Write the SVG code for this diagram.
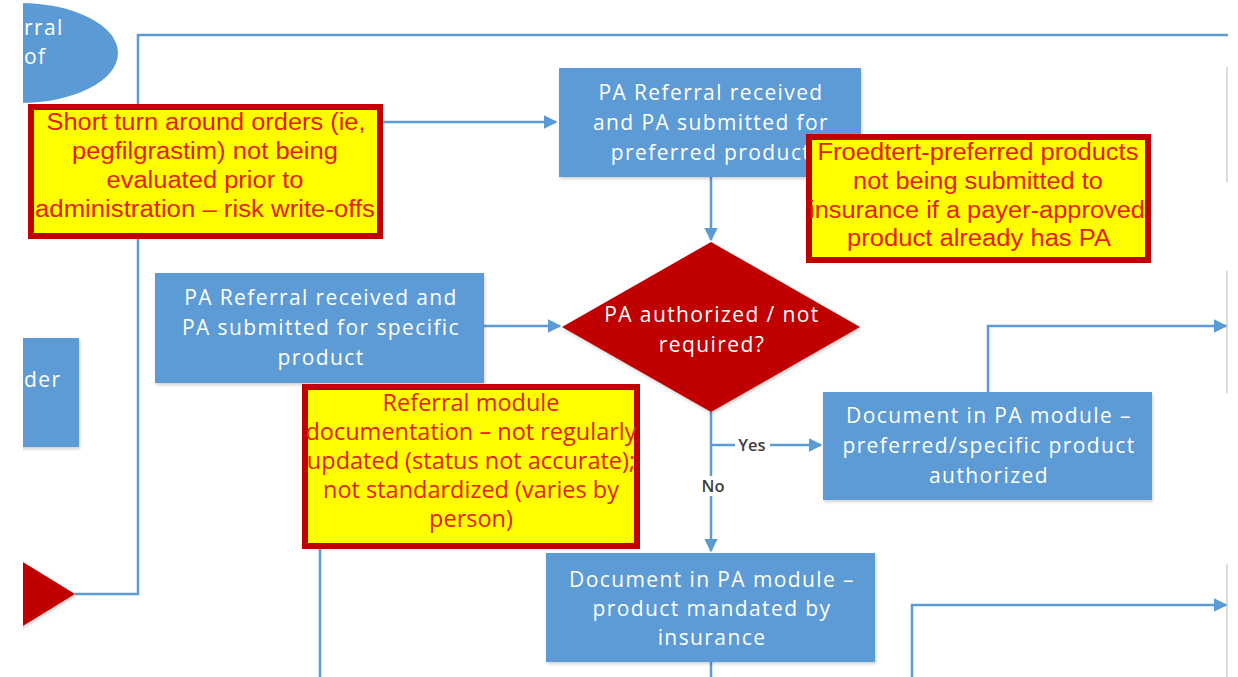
<svg xmlns="http://www.w3.org/2000/svg" width="1238" height="677" viewBox="0 0 1238 677">
<defs>
<marker id="arr" viewBox="0 0 10 10" refX="9" refY="5" markerWidth="5.5" markerHeight="5.5" orient="auto" markerUnits="strokeWidth">
<path d="M0,0 L10,5 L0,10 z" fill="#5B9BD5"/>
</marker>
<filter id="sh" x="-10%" y="-10%" width="120%" height="125%">
<feDropShadow dx="1" dy="2" stdDeviation="1.5" flood-color="#000" flood-opacity="0.18"/>
</filter>
</defs>
<style>
.box{fill:#5B9BD5;filter:url(#sh);}
.dia{fill:#C00000;filter:url(#sh);}
.bt{font-family:"Open Sans","Liberation Sans",sans-serif;font-size:21px;letter-spacing:1.4px;fill:#fff;text-anchor:middle;}
.bl{font-family:"Open Sans","Liberation Sans",sans-serif;font-size:21px;letter-spacing:1.4px;fill:#fff;text-anchor:start;}
.note{fill:#FFFF00;stroke:#C00000;stroke-width:6;}
.nt{font-family:"Liberation Sans",Arial,sans-serif;font-size:23px;fill:#E3200C;text-anchor:middle;}
.nt2{font-family:"Liberation Sans Narrow","Open Sans",sans-serif;font-size:23.5px;fill:#E3200C;text-anchor:middle;}
.c{fill:none;stroke:#5B9BD5;stroke-width:2.5;}
.lbl{font-family:"Open Sans","Liberation Sans",sans-serif;font-size:16.5px;font-weight:600;fill:#404040;text-anchor:middle;}
.edge{stroke:#D0D0D0;stroke-width:1.5;}
</style>
<rect width="1238" height="677" fill="#fff"/>

<g id="right-edge">
<line class="edge" x1="1227" y1="67" x2="1227" y2="182"/>
<line class="edge" x1="1227" y1="271" x2="1227" y2="393"/>
<line class="edge" x1="1227" y1="564" x2="1227" y2="677"/>
</g>

<g id="connectors">
<path class="c" d="M75,594 H138 V35 H1228"/>
<path class="c" d="M138,122 H556" marker-end="url(#arr)"/>
<path class="c" d="M711,177 V240" marker-end="url(#arr)"/>
<path class="c" d="M484,326 H560" marker-end="url(#arr)"/>
<path class="c" d="M711,412 V551" marker-end="url(#arr)"/>
<path class="c" d="M711,445 H821" marker-end="url(#arr)"/>
<path class="c" d="M988,392 V326 H1226" marker-end="url(#arr)"/>
<path class="c" d="M320,540 V677"/>
<path class="c" d="M711,662 V677"/>
<path class="c" d="M912,677 V605 H1226" marker-end="url(#arr)"/>
<rect x="735" y="435" width="35" height="20" fill="#fff"/>
<text class="lbl" x="752" y="451">Yes</text>
<rect x="699" y="476" width="27" height="20" fill="#fff"/>
<text class="lbl" x="713" y="492">No</text>
</g>

<g id="n-ellipse">
<ellipse cx="20" cy="53" rx="98" ry="50" fill="#5B9BD5"/>
<text class="bl" x="24" y="35">rral</text>
<text class="bl" x="24" y="64">of</text>
</g>

<g id="n-left-box">
<rect class="box" x="10" y="338" width="69" height="109"/>
<text class="bl" x="24" y="387">der</text>
</g>

<g id="n-left-diamond">
<polygon class="dia" points="0,548 75,594 0,640"/>
</g>

<g id="n-preferred">
<rect class="box" x="559" y="68" width="302" height="109"/>
<text class="bt" x="711" y="100">PA Referral received</text>
<text class="bt" x="711" y="130">and PA submitted for</text>
<text class="bt" x="711" y="160">preferred product</text>
</g>

<g id="n-specific">
<rect class="box" x="155" y="273" width="329" height="110"/>
<text class="bt" x="321" y="305">PA Referral received and</text>
<text class="bt" x="321" y="335">PA submitted for specific</text>
<text class="bt" x="321" y="365">product</text>
</g>

<g id="n-decision">
<polygon class="dia" points="711,242 860,327 711,412 562,327"/>
<text class="bt" x="712" y="322">PA authorized / not</text>
<text class="bt" x="712" y="352">required?</text>
</g>

<g id="n-authorized">
<rect class="box" x="823" y="392" width="329" height="108"/>
<text class="bt" x="989" y="423">Document in PA module –</text>
<text class="bt" x="989" y="453">preferred/specific product</text>
<text class="bt" x="989" y="483">authorized</text>
</g>

<g id="n-mandated">
<rect class="box" x="546" y="553" width="329" height="109"/>
<text class="bt" x="712" y="587">Document in PA module –</text>
<text class="bt" x="712" y="616">product mandated by</text>
<text class="bt" x="712" y="645">insurance</text>
</g>

<g id="note-short-turn">
<rect class="note" x="31" y="107" width="349" height="129"/>
<text class="nt" x="206" y="130" textLength="319" lengthAdjust="spacingAndGlyphs">Short turn around orders (ie,</text>
<text class="nt" x="205" y="159" textLength="266" lengthAdjust="spacingAndGlyphs">pegfilgrastim) not being</text>
<text class="nt" x="205" y="188" textLength="197" lengthAdjust="spacingAndGlyphs">evaluated prior to</text>
<text class="nt" x="205" y="217" textLength="340" lengthAdjust="spacingAndGlyphs">administration – risk write-offs</text>
</g>

<g id="note-froedtert">
<rect class="note" x="809" y="137" width="339" height="123"/>
<text class="nt" x="978" y="160" textLength="321" lengthAdjust="spacingAndGlyphs">Froedtert-preferred products</text>
<text class="nt" x="978" y="189" textLength="250" lengthAdjust="spacingAndGlyphs">not being submitted to</text>
<text class="nt" x="977" y="218" textLength="336" lengthAdjust="spacingAndGlyphs">insurance if a payer-approved</text>
<text class="nt" x="979" y="246" textLength="264" lengthAdjust="spacingAndGlyphs">product already has PA</text>
</g>

<g id="note-referral-module">
<rect class="note" x="305" y="387" width="332" height="159"/>
<text class="nt2" x="471" y="411">Referral module</text>
<text class="nt2" x="471" y="440">documentation – not regularly</text>
<text class="nt2" x="471" y="469">updated (status not accurate);</text>
<text class="nt2" x="471" y="498">not standardized (varies by</text>
<text class="nt2" x="471" y="527">person)</text>
</g>

<rect x="0" y="0" width="23" height="677" fill="#fff"/>
</svg>
